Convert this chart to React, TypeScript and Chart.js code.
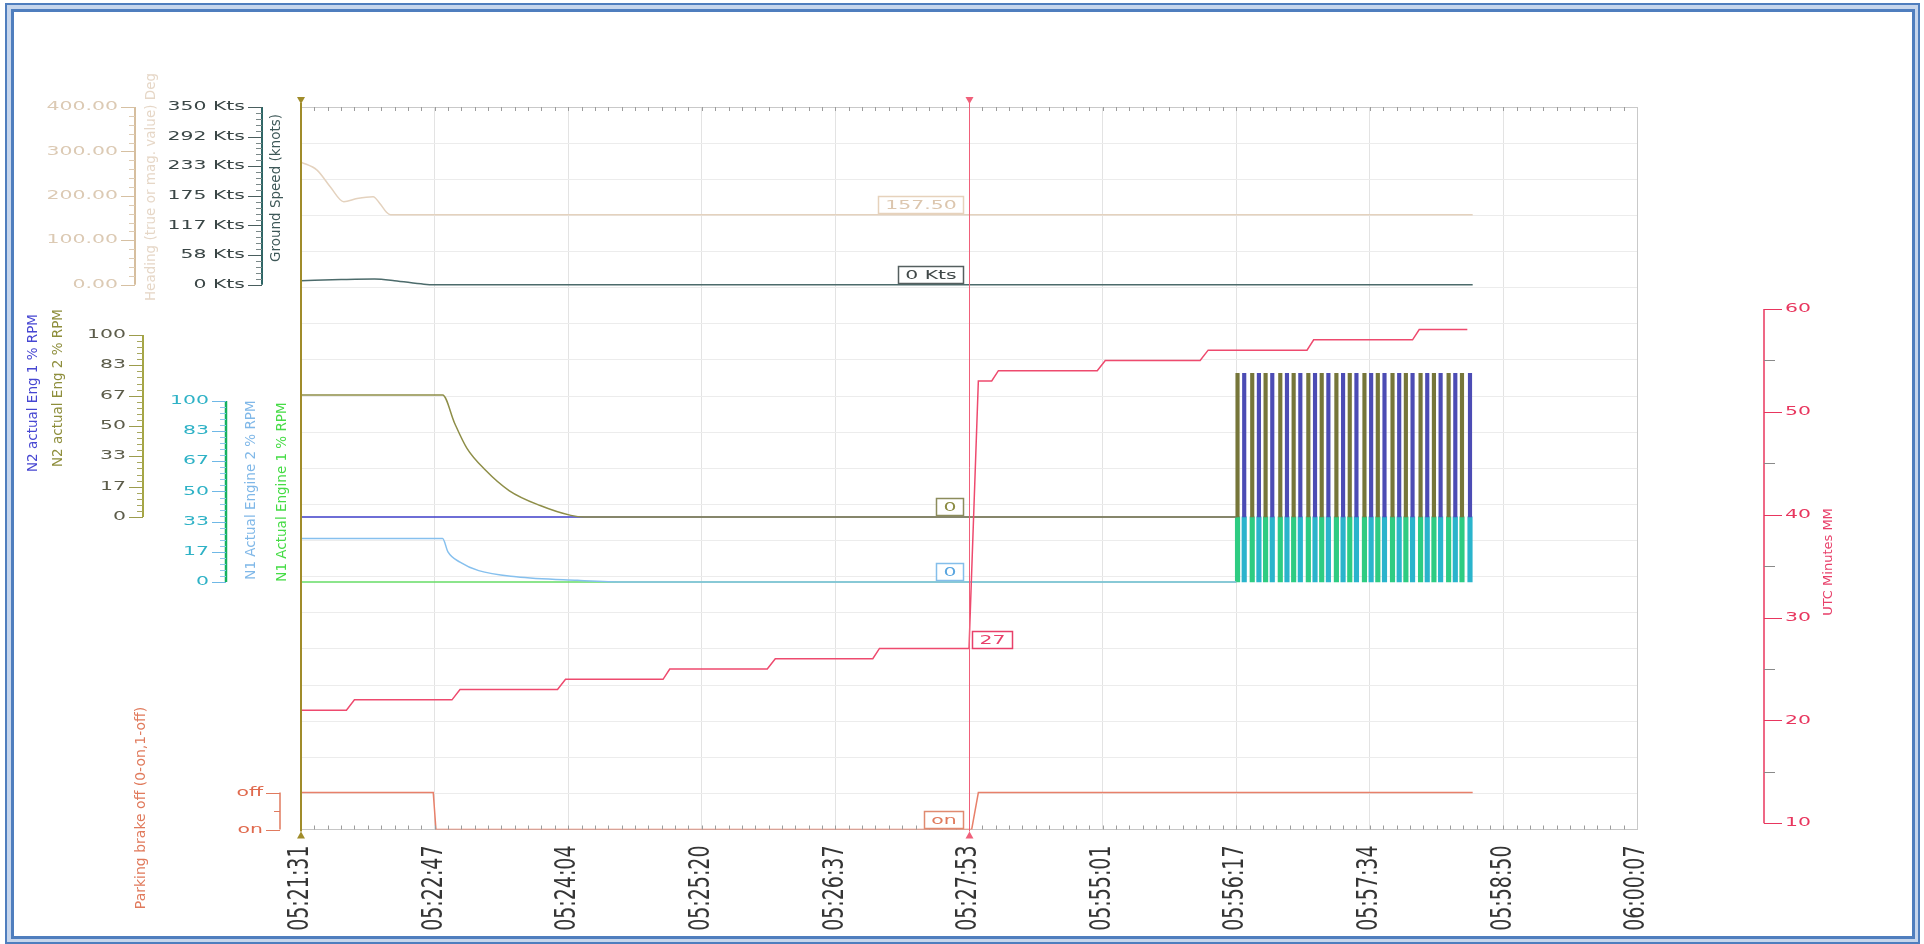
import React, { useEffect, useRef } from 'react';
import { Chart, registerables } from 'chart.js';

Chart.register(...registerables);

// ---------------- data ----------------
const X_TICK_LABELS = ['05:21:31', '05:22:47', '05:24:04', '05:25:20', '05:26:37', '05:27:53', '05:55:01', '05:56:17', '05:57:34', '05:58:50', '06:00:07'];

const HDG_TICK_VALUES = [0, 100, 200, 300, 400];
const HDG_TICK_LABELS = ['0.00', '100.00', '200.00', '300.00', '400.00'];
const GS_TICK_VALUES = [0, 58.33, 116.67, 175, 233.33, 291.67, 350];
const GS_TICK_LABELS = ['0 Kts', '58 Kts', '117 Kts', '175 Kts', '233 Kts', '292 Kts', '350 Kts'];
const PCT_TICK_VALUES = [0, 16.67, 33.33, 50, 66.67, 83.33, 100];
const PCT_TICK_LABELS = ['0', '17', '33', '50', '67', '83', '100'];
const BRAKE_TICK_VALUES = [0, 1];
const BRAKE_TICK_LABELS = ['on', 'off'];
const UTC_TICK_VALUES = [10, 20, 30, 40, 50, 60];
const UTC_TICK_LABELS = ['10', '20', '30', '40', '50', '60'];

const HEADING_X = [0, 0.12, 0.22, 0.32, 0.42, 0.54, 0.59, 0.64, 0.67, 8.77];
const HEADING_Y = [276, 258, 220, 187, 194, 198, 183, 163, 157.5, 157.5];

const GS_X = [0, 0.3, 0.55, 0.7, 0.92, 1.0, 8.77];
const GS_Y = [8, 10, 11, 8, 1, 0, 0];

const N2_ENG2_X = [0, 1.06, 1.15, 1.24, 1.38, 1.56, 1.79, 2.02, 2.12, 7.0];
const N2_ENG2_Y = [67, 67, 51.5, 38, 25.8, 14.4, 6.3, 0.9, 0, 0];
const N2_ENG1_X = [0, 7.0];
const N2_ENG1_Y = [0, 0];

const N1_ENG2_X = [0, 1.06, 1.1, 1.19, 1.33, 1.61, 2.07, 2.43, 7.0];
const N1_ENG2_Y = [24, 24, 16.6, 11, 6.3, 2.9, 0.9, 0, 0];
const N1_ENG1_X = [0, 7.0];
const N1_ENG1_Y = [0, 0];

const UTC_X = [0, 0.34, 0.4, 1.13, 1.19, 1.92, 1.98, 2.71, 2.76, 3.49, 3.55, 4.28, 4.33, 5.0, 5.07, 5.17, 5.22, 5.96, 6.02, 6.73, 6.79, 7.53, 7.58, 8.32, 8.37, 8.73];
const UTC_Y = [21, 21, 22, 22, 23, 23, 24, 24, 25, 25, 26, 26, 27, 27, 53, 53, 54, 54, 55, 55, 56, 56, 57, 57, 58, 58];

const BRAKE_X = [0, 0.99, 1.01, 5.02, 5.07, 8.77];
const BRAKE_Y = [1, 1, 0, 0, 1, 1];

// oscillating section (each value = one spike)
const COMB_A_X = [7.01, 7.12, 7.22, 7.33, 7.43, 7.54, 7.64, 7.75, 7.85, 7.96, 8.06, 8.17, 8.27, 8.38, 8.48, 8.59, 8.69];
const COMB_B_X = [7.06, 7.17, 7.27, 7.38, 7.48, 7.59, 7.69, 7.80, 7.90, 8.01, 8.11, 8.22, 8.32, 8.43, 8.53, 8.64, 8.75];
const N2_ENG2_COMB_Y = [79, 79, 79, 79, 79, 79, 79, 79, 79, 79, 79, 79, 79, 79, 79, 79, 79];
const N2_ENG1_COMB_Y = [79, 79, 79, 79, 79, 79, 79, 79, 79, 79, 79, 79, 79, 79, 79, 79, 79];
const N1_ENG1_COMB_Y = [36, 36, 36, 36, 36, 36, 36, 36, 36, 36, 36, 36, 36, 36, 36, 36, 36];
const N1_ENG2_COMB_Y = [36, 36, 36, 36, 36, 36, 36, 36, 36, 36, 36, 36, 36, 36, 36, 36, 36];

const CURSOR_X = 5;
const READOUT_LABELS = ['157.50', '0 Kts', '0', '0', '27', 'on'];
const READOUT_VALUES = [157.5, 0, 0, 0, 27, 0];

// ---------------- layout / style ----------------
const W = 1924;
const H = 944;
const CA_LEFT = 301;
const CA_RIGHT = 1637;
const CA_TOP = 107;
const CA_BOTTOM = 829.5;
const SX = 1.7; // horizontal text stretch of the original screenshot
const FONT = '"DejaVu Sans", Verdana, sans-serif';

function band(vBot: number, pBot: number, vTop: number, pTop: number) {
  const s = (vTop - vBot) / (pBot - pTop);
  return { min: vBot - s * (CA_BOTTOM - pBot), max: vTop + s * (pTop - CA_TOP) };
}

const AXES = [
  { scale: 'yHdg', x: 135, vals: HDG_TICK_VALUES, labels: HDG_TICK_LABELS, minor: 5, side: 'left', lineColor: '#C9A97E', lineWidth: 1.5, tickColor: '#D6C0A2', minorColor: '#DDCBB3', labelColor: '#DCCAB4' },
  { scale: 'yGs', x: 262, vals: GS_TICK_VALUES, labels: GS_TICK_LABELS, minor: 5, side: 'left', lineColor: '#2F6666', lineWidth: 2, tickColor: '#4A5E5E', minorColor: '#7A8888', labelColor: '#3A4646' },
  { scale: 'yN2', x: 143, vals: PCT_TICK_VALUES, labels: PCT_TICK_LABELS, minor: 5, side: 'left', lineColor: '#A6A644', lineWidth: 2, tickColor: '#9C9C4C', minorColor: '#A8A860', labelColor: '#5C5C4A' },
  { scale: 'yN1', x: 226, vals: PCT_TICK_VALUES, labels: PCT_TICK_LABELS, minor: 5, side: 'left', lineColor: '#14B060', lineWidth: 2.5, tickColor: '#6FB8E6', minorColor: '#8CC6EC', labelColor: '#2FB2C6' },
  { scale: 'yBrk', x: 280, vals: BRAKE_TICK_VALUES, labels: BRAKE_TICK_LABELS, minor: 2, side: 'left', lineColor: '#E07A5E', lineWidth: 1.5, tickColor: '#E07A5E', minorColor: '#E07A5E', labelColor: '#E06A4E' },
  { scale: 'yUtc', x: 1764, vals: UTC_TICK_VALUES, labels: UTC_TICK_LABELS, minor: 2, side: 'right', lineColor: '#E8365E', lineWidth: 1.5, tickColor: '#E8365E', minorColor: '#8A8A8A', labelColor: '#E8365E' },
];

const TITLES = [
  { text: 'Heading (true or mag. value) Deg', x: 151, y: 187, color: '#E6D7C7', size: 13.5 },
  { text: 'Ground Speed (knots)', x: 276, y: 188, color: '#3E5858', size: 13.5 },
  { text: 'N2 actual Eng 1 % RPM', x: 33, y: 393, color: '#4747D2', size: 13.5 },
  { text: 'N2 actual Eng 2 % RPM', x: 58, y: 388, color: '#8E8E3C', size: 13.5 },
  { text: 'N1 Actual Engine 2 % RPM', x: 251, y: 490, color: '#80B8E8', size: 13.5 },
  { text: 'N1 Actual Engine 1 % RPM', x: 282, y: 492, color: '#46DC46', size: 13.5 },
  { text: 'Parking brake off (0-on,1-off)', x: 141, y: 808, color: '#E07A5C', size: 14 },
  { text: 'UTC Minutes MM', x: 1829, y: 562, color: '#E8406A', size: 13 },
];

const READOUT_STYLE = [
  { scale: 'yHdg', border: '#E6D2BC', text: '#DCC6AE', side: 'left' },
  { scale: 'yGs', border: '#555F5F', text: '#404848', side: 'left' },
  { scale: 'yN2', border: '#8C8C5C', text: '#8C8C44', side: 'left' },
  { scale: 'yN1', border: '#84BEEA', text: '#5AA6E0', side: 'left' },
  { scale: 'yUtc', border: '#E8406A', text: '#E8406A', side: 'right' },
  { scale: 'yBrk', border: '#E08A70', text: '#E07A5C', side: 'left' },
];

function stretchedText(ctx: CanvasRenderingContext2D, text: string, x: number, y: number, color: string, font: string, align: CanvasTextAlign, sx = SX) {
  ctx.save();
  ctx.translate(x, y);
  ctx.scale(sx, 1);
  ctx.font = font;
  ctx.fillStyle = color;
  ctx.textAlign = align;
  ctx.textBaseline = 'middle';
  ctx.fillText(text, 0, 0);
  ctx.restore();
}

function verticalText(ctx: CanvasRenderingContext2D, text: string, x: number, y: number, color: string, font: string, align: CanvasTextAlign, sx = 1) {
  ctx.save();
  ctx.translate(x, y);
  ctx.scale(sx, 1);
  ctx.rotate(-Math.PI / 2);
  ctx.font = font;
  ctx.fillStyle = color;
  ctx.textAlign = align;
  ctx.textBaseline = 'middle';
  ctx.fillText(text, 0, 0);
  ctx.restore();
}

function hline(ctx: CanvasRenderingContext2D, x1: number, x2: number, y: number) {
  ctx.beginPath();
  ctx.moveTo(x1, Math.round(y) + 0.5);
  ctx.lineTo(x2, Math.round(y) + 0.5);
  ctx.stroke();
}

function triangle(ctx: CanvasRenderingContext2D, x: number, y: number, down: boolean, color: string) {
  ctx.save();
  ctx.fillStyle = color;
  ctx.beginPath();
  const d = down ? 1 : -1;
  ctx.moveTo(x - 4, y - 4 * d);
  ctx.lineTo(x + 4, y - 4 * d);
  ctx.lineTo(x, y + 3 * d);
  ctx.closePath();
  ctx.fill();
  ctx.restore();
}

const decorPlugin = {
  id: 'decor',
  afterDraw(chart: any) {
    const ctx: CanvasRenderingContext2D = chart.ctx;
    const xs = chart.scales.x;
    const area = chart.chartArea;

    // plot frame (top/right)
    ctx.save();
    ctx.strokeStyle = '#c9c9c9';
    ctx.lineWidth = 1;
    hline(ctx, area.left, area.right, area.top);
    ctx.beginPath();
    ctx.moveTo(Math.round(area.right) + 0.5, area.top);
    ctx.lineTo(Math.round(area.right) + 0.5, area.bottom);
    ctx.stroke();

    // minor ticks along top and bottom edges
    ctx.strokeStyle = '#9c9c9c';
    for (let k = 1; k < 100; k++) {
      const px = Math.round(xs.getPixelForValue(k / 10)) + 0.5;
      ctx.beginPath();
      ctx.moveTo(px, area.top);
      ctx.lineTo(px, area.top + 4);
      ctx.moveTo(px, area.bottom);
      ctx.lineTo(px, area.bottom - 4);
      ctx.stroke();
    }
    ctx.restore();

    // left axes + right axis
    for (const ax of AXES) {
      const sc = chart.scales[ax.scale];
      const v0 = ax.vals[0];
      const v1 = ax.vals[ax.vals.length - 1];
      const p0 = sc.getPixelForValue(v0);
      const p1 = sc.getPixelForValue(v1);
      const dir = ax.side === 'left' ? -1 : 1;
      ctx.save();
      ctx.strokeStyle = ax.lineColor;
      ctx.lineWidth = ax.lineWidth;
      ctx.beginPath();
      ctx.moveTo(ax.x, p0);
      ctx.lineTo(ax.x, p1);
      ctx.stroke();
      ctx.lineWidth = 1;
      ctx.strokeStyle = ax.minorColor;
      for (let i = 0; i < ax.vals.length - 1; i++) {
        const a = ax.vals[i];
        const b = ax.vals[i + 1];
        for (let k = 1; k < ax.minor; k++) {
          const py = sc.getPixelForValue(a + ((b - a) * k) / ax.minor);
          hline(ctx, ax.x, ax.x + dir * (ax.side === 'left' ? 6 : 11), py);
        }
      }
      ctx.strokeStyle = ax.tickColor;
      const majorLen = ax.side === 'left' ? 14 : 18;
      ax.vals.forEach((v, i) => {
        const py = sc.getPixelForValue(v);
        hline(ctx, ax.x, ax.x + dir * majorLen, py);
        stretchedText(
          ctx,
          ax.labels[i],
          ax.x + dir * (majorLen + 3),
          py,
          ax.labelColor,
          `12px ${FONT}`,
          ax.side === 'left' ? 'right' : 'left'
        );
      });
      ctx.restore();
    }

    // axis titles
    for (const t of TITLES) {
      verticalText(ctx, t.text, t.x, t.y, t.color, `${t.size}px ${FONT}`, 'center');
    }

    // x tick labels (rotated)
    X_TICK_LABELS.forEach((lab, i) => {
      const px = xs.getPixelForValue(i);
      verticalText(ctx, lab, px, area.bottom + 16, '#353535', `19px ${FONT}`, 'right', 1.45);
    });

    // cursors
    const cx = xs.getPixelForValue(CURSOR_X);
    ctx.save();
    ctx.strokeStyle = '#F0607A';
    ctx.lineWidth = 1;
    ctx.beginPath();
    ctx.moveTo(Math.round(cx) + 0.5, area.top - 4);
    ctx.lineTo(Math.round(cx) + 0.5, area.bottom + 2);
    ctx.stroke();
    ctx.strokeStyle = '#A08C2A';
    ctx.lineWidth = 2;
    const lx = xs.getPixelForValue(0);
    ctx.beginPath();
    ctx.moveTo(lx, area.top - 4);
    ctx.lineTo(lx, area.bottom + 2);
    ctx.stroke();
    ctx.restore();
    triangle(ctx, lx, area.top - 6, true, '#A08C2A');
    triangle(ctx, cx + 0.5, area.top - 6, true, '#F0607A');
    triangle(ctx, lx, area.bottom + 5, false, '#A08C2A');
    triangle(ctx, cx + 0.5, area.bottom + 5, false, '#F0607A');

    // cursor readouts
    READOUT_LABELS.forEach((lab, i) => {
      const st = READOUT_STYLE[i];
      const py = chart.scales[st.scale].getPixelForValue(READOUT_VALUES[i]);
      ctx.save();
      ctx.font = `12px ${FONT}`;
      const tw = ctx.measureText(lab).width * SX;
      const bw = Math.round(tw + 14);
      const bh = 17;
      const bx = st.side === 'left' ? Math.round(cx - 6 - bw) : Math.round(cx + 3);
      const by = st.side === 'left' ? Math.round(py - 2 - bh) : Math.round(py - bh);
      ctx.fillStyle = '#ffffff';
      ctx.fillRect(bx, by, bw, bh);
      ctx.strokeStyle = st.border;
      ctx.lineWidth = 1.5;
      ctx.strokeRect(bx + 0.5, by + 0.5, bw, bh);
      ctx.restore();
      stretchedText(ctx, lab, bx + bw / 2 + 0.5, by + bh / 2 + 1, st.text, `12px ${FONT}`, 'center');
    });

    // outer blue double frame
    ctx.save();
    ctx.strokeStyle = '#C7D6EC';
    ctx.lineWidth = 4;
    ctx.strokeRect(9, 7, 1908, 933);
    ctx.strokeStyle = '#4F7EBE';
    ctx.lineWidth = 2;
    ctx.strokeRect(6, 4, 1913, 939);
    ctx.lineWidth = 3;
    ctx.strokeRect(12.5, 10.5, 1901, 927);
    ctx.restore();
  },
};

function lineDs(label: string, xs: number[], ys: number[], yAxisID: string, color: string, smooth = false, width = 1.5) {
  return {
    type: 'line' as const,
    label,
    data: xs.map((x, i) => ({ x, y: ys[i] })),
    xAxisID: 'x',
    yAxisID,
    borderColor: color,
    backgroundColor: color,
    borderWidth: width,
    pointRadius: 0,
    fill: false,
    tension: smooth ? 0.4 : 0,
    cubicInterpolationMode: smooth ? ('monotone' as const) : ('default' as const),
  };
}

function barDs(label: string, xs: number[], ys: number[], yAxisID: string, color: string, thickness: number) {
  return {
    type: 'bar' as const,
    label,
    data: xs.map((x, i) => ({ x, y: ys[i] })),
    xAxisID: 'x',
    yAxisID,
    backgroundColor: color,
    borderWidth: 0,
    barThickness: thickness,
    grouped: false,
  };
}

export default function App() {
  const ref = useRef<HTMLCanvasElement>(null);

  useEffect(() => {
    if (!ref.current) return;
    const chart = new Chart(ref.current, {
      type: 'line',
      data: {
        datasets: [
          lineDs('UTC Minutes MM', UTC_X, UTC_Y, 'yUtc', '#EE4A6E'),
          lineDs('Parking brake off (0-on,1-off)', BRAKE_X, BRAKE_Y, 'yBrk', '#E8806A'),
          lineDs('Ground Speed (knots)', GS_X, GS_Y, 'yGs', '#4C6B6B', true),
          lineDs('Heading (true or mag. value) Deg', HEADING_X, HEADING_Y, 'yHdg', '#E4D2BE', true),
          lineDs('N2 actual Eng 2 % RPM', N2_ENG2_X, N2_ENG2_Y, 'yN2', '#8E8E48', true),
          lineDs('N2 actual Eng 1 % RPM', N2_ENG1_X, N2_ENG1_Y, 'yN2', '#3E3EC8'),
          lineDs('N1 Actual Engine 2 % RPM', N1_ENG2_X, N1_ENG2_Y, 'yN1', '#86C0EE', true),
          lineDs('N1 Actual Engine 1 % RPM', N1_ENG1_X, N1_ENG1_Y, 'yN1', '#66DD66'),
          barDs('N2 Eng 2 osc', COMB_A_X, N2_ENG2_COMB_Y, 'yN2', '#76763A', 3.5),
          barDs('N2 Eng 1 osc', COMB_B_X, N2_ENG1_COMB_Y, 'yN2', '#4C4CB4', 3.5),
          barDs('N1 Eng 1 osc', COMB_A_X, N1_ENG1_COMB_Y, 'yN1', '#2ECC82', 4.5),
          barDs('N1 Eng 2 osc', COMB_B_X, N1_ENG2_COMB_Y, 'yN1', '#2AB4CC', 4.5),
        ] as any,
      },
      options: {
        responsive: false,
        animation: false,
        devicePixelRatio: 1,
        events: [],
        layout: { padding: { left: CA_LEFT, right: W - CA_RIGHT, top: CA_TOP, bottom: H - CA_BOTTOM } },
        plugins: { legend: { display: false }, tooltip: { enabled: false }, title: { display: false } },
        scales: {
          x: {
            type: 'linear',
            position: 'bottom',
            min: 0,
            max: 10,
            offset: false,
            ticks: { stepSize: 1, display: false, autoSkip: false, maxTicksLimit: 100 },
            grid: { color: '#e3e3e3', drawTicks: false, offset: false },
            border: { color: '#c6c6c6' },
            afterFit: (s: any) => {
              s.height = 0;
            },
          },
          yGrid: {
            type: 'linear',
            position: 'left',
            min: 0,
            max: 20,
            ticks: { stepSize: 1, display: false, maxTicksLimit: 100 },
            grid: { color: '#ececec', drawTicks: false },
            border: { display: false },
            afterFit: (s: any) => {
              s.width = 0;
            },
          },
          yHdg: { type: 'linear', display: false, ...band(0, 284.7, 400, 107) },
          yGs: { type: 'linear', display: false, ...band(0, 284.7, 350, 107) },
          yN2: { type: 'linear', display: false, ...band(0, 517, 100, 335) },
          yN1: { type: 'linear', display: false, ...band(0, 582, 100, 401) },
          yBrk: { type: 'linear', display: false, ...band(0, 829.5, 1, 792.6) },
          yUtc: { type: 'linear', display: false, ...band(10, 823.3, 60, 309) },
        } as any,
      },
      plugins: [decorPlugin],
    });
    return () => chart.destroy();
  }, []);

  return (
    <div style={{ position: 'fixed', left: 0, top: 0, width: W, height: H, background: '#ffffff' }}>
      <canvas ref={ref} width={W} height={H} style={{ display: 'block', width: W, height: H }} />
    </div>
  );
}
